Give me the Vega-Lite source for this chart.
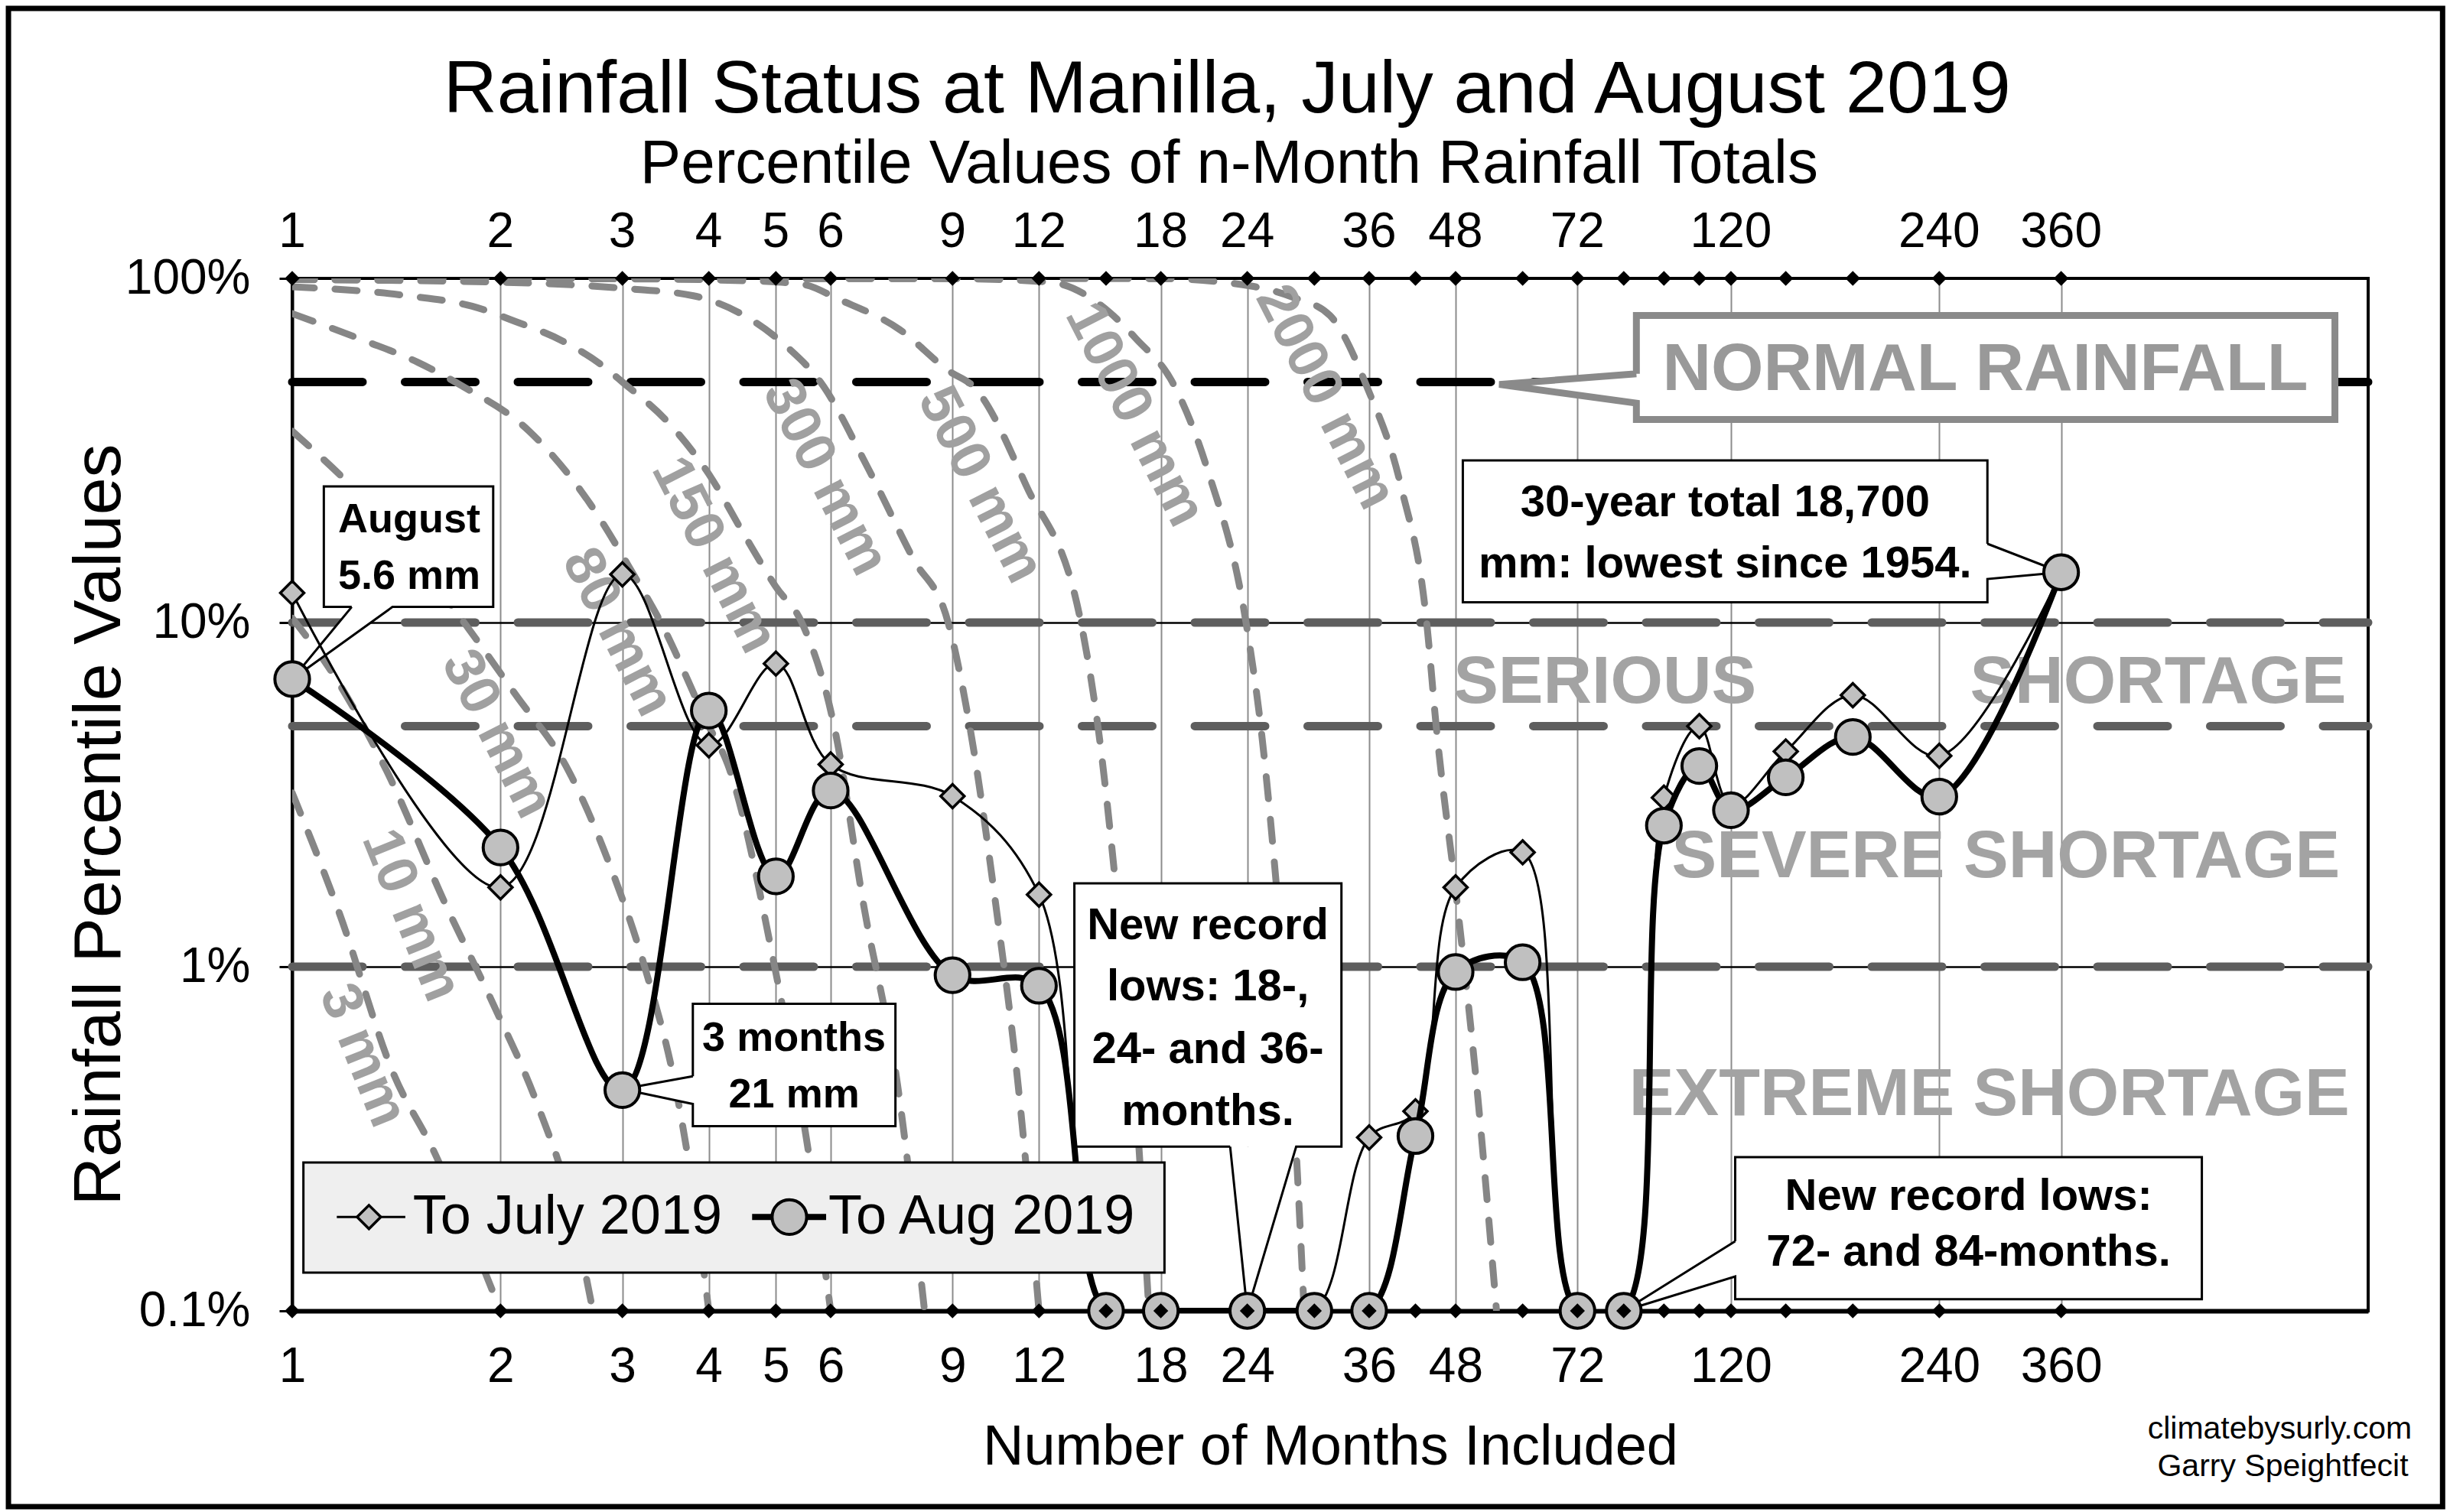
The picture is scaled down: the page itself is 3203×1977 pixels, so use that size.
{
"$schema": "https://vega.github.io/schema/vega-lite/v6.json",
"width": 2714, "height": 1350,
"autosize": {"type": "none"},
"padding": {"left": 382, "top": 364, "right": 107, "bottom": 263},
"background": "white",
"config": {"view": {"stroke": "black", "strokeWidth": 4}, "font": "Liberation Sans"},
"datasets": {
"series": [
{"s":"July","m":1,"p":12.2},{"s":"July","m":2,"p":1.70},{"s":"July","m":3,"p":13.8},{"s":"July","m":4,"p":4.4},{"s":"July","m":5,"p":7.6},{"s":"July","m":6,"p":3.87},{"s":"July","m":9,"p":3.13},{"s":"July","m":12,"p":1.62},{"s":"July","m":15,"p":0.1},{"s":"July","m":18,"p":0.1},{"s":"July","m":24,"p":0.1},{"s":"July","m":30,"p":0.1},{"s":"July","m":36,"p":0.319},{"s":"July","m":42,"p":0.38},{"s":"July","m":48,"p":1.70},{"s":"July","m":60,"p":2.15},{"s":"July","m":72,"p":0.1},{"s":"July","m":84,"p":0.1},{"s":"July","m":96,"p":3.1},{"s":"July","m":108,"p":5.0},{"s":"July","m":120,"p":2.95},{"s":"July","m":144,"p":4.22},{"s":"July","m":180,"p":6.15},{"s":"July","m":240,"p":4.1},{"s":"July","m":360,"p":14.0},
{"s":"Aug","m":1,"p":6.85},{"s":"Aug","m":2,"p":2.22},{"s":"Aug","m":3,"p":0.438},{"s":"Aug","m":4,"p":5.55},{"s":"Aug","m":5,"p":1.83},{"s":"Aug","m":6,"p":3.25},{"s":"Aug","m":9,"p":0.945},{"s":"Aug","m":12,"p":0.88},{"s":"Aug","m":15,"p":0.1},{"s":"Aug","m":18,"p":0.1},{"s":"Aug","m":24,"p":0.1},{"s":"Aug","m":30,"p":0.1},{"s":"Aug","m":36,"p":0.1},{"s":"Aug","m":42,"p":0.322},{"s":"Aug","m":48,"p":0.965},{"s":"Aug","m":60,"p":1.03},{"s":"Aug","m":72,"p":0.1},{"s":"Aug","m":84,"p":0.1},{"s":"Aug","m":96,"p":2.57},{"s":"Aug","m":108,"p":3.83},{"s":"Aug","m":120,"p":2.85},{"s":"Aug","m":144,"p":3.55},{"s":"Aug","m":180,"p":4.65},{"s":"Aug","m":240,"p":3.12},{"s":"Aug","m":360,"p":14.0}
],
"axdots": [
{"m":1,"p":100},{"m":2,"p":100},{"m":3,"p":100},{"m":4,"p":100},{"m":5,"p":100},{"m":6,"p":100},{"m":9,"p":100},{"m":12,"p":100},{"m":15,"p":100},{"m":18,"p":100},{"m":24,"p":100},{"m":30,"p":100},{"m":36,"p":100},{"m":42,"p":100},{"m":48,"p":100},{"m":60,"p":100},{"m":72,"p":100},{"m":84,"p":100},{"m":96,"p":100},{"m":108,"p":100},{"m":120,"p":100},{"m":144,"p":100},{"m":180,"p":100},{"m":240,"p":100},{"m":360,"p":100},
{"m":1,"p":0.1},{"m":2,"p":0.1},{"m":3,"p":0.1},{"m":4,"p":0.1},{"m":5,"p":0.1},{"m":6,"p":0.1},{"m":9,"p":0.1},{"m":12,"p":0.1},{"m":15,"p":0.1},{"m":18,"p":0.1},{"m":24,"p":0.1},{"m":30,"p":0.1},{"m":36,"p":0.1},{"m":42,"p":0.1},{"m":48,"p":0.1},{"m":60,"p":0.1},{"m":72,"p":0.1},{"m":84,"p":0.1},{"m":96,"p":0.1},{"m":108,"p":0.1},{"m":120,"p":0.1},{"m":144,"p":0.1},{"m":180,"p":0.1},{"m":240,"p":0.1},{"m":360,"p":0.1}
],
"curves": [
{"amt":"3 mm","m":1,"p":3.2},{"amt":"3 mm","m":1.17,"p":1.43},{"amt":"3 mm","m":1.4,"p":0.49},{"amt":"3 mm","m":1.61,"p":0.285},{"amt":"3 mm","m":1.82,"p":0.16},{"amt":"3 mm","m":2.0,"p":0.1},
{"amt":"10 mm","m":1,"p":10.3},{"amt":"10 mm","m":1.15,"p":7.0},{"amt":"10 mm","m":1.37,"p":3.7},{"amt":"10 mm","m":1.67,"p":1.5},{"amt":"10 mm","m":1.94,"p":0.8},{"amt":"10 mm","m":2.27,"p":0.39},{"amt":"10 mm","m":2.5,"p":0.22},{"amt":"10 mm","m":2.72,"p":0.1},
{"amt":"30 mm","m":1,"p":36},{"amt":"30 mm","m":1.32,"p":21},{"amt":"30 mm","m":1.71,"p":11},{"amt":"30 mm","m":2.1,"p":6.2},{"amt":"30 mm","m":2.51,"p":3.7},{"amt":"30 mm","m":2.87,"p":2.0},{"amt":"30 mm","m":3.25,"p":0.96},{"amt":"30 mm","m":3.59,"p":0.435},{"amt":"30 mm","m":3.8,"p":0.22},{"amt":"30 mm","m":4.0,"p":0.1},
{"amt":"80 mm","m":1,"p":79},{"amt":"80 mm","m":1.27,"p":66},{"amt":"80 mm","m":1.52,"p":57},{"amt":"80 mm","m":1.75,"p":49},{"amt":"80 mm","m":2.2,"p":36},{"amt":"80 mm","m":2.7,"p":22},{"amt":"80 mm","m":3.1,"p":14},{"amt":"80 mm","m":3.41,"p":10},{"amt":"80 mm","m":4.0,"p":5},{"amt":"80 mm","m":4.26,"p":3.87},{"amt":"80 mm","m":5.0,"p":0.96},{"amt":"80 mm","m":5.53,"p":0.32},{"amt":"80 mm","m":6.0,"p":0.1},
{"amt":"150 mm","m":1,"p":94.5},{"amt":"150 mm","m":1.47,"p":89},{"amt":"150 mm","m":1.82,"p":83},{"amt":"150 mm","m":2.1,"p":75},{"amt":"150 mm","m":2.45,"p":66},{"amt":"150 mm","m":2.8,"p":56},{"amt":"150 mm","m":3.0,"p":50},{"amt":"150 mm","m":3.5,"p":38},{"amt":"150 mm","m":4.0,"p":27},{"amt":"150 mm","m":4.5,"p":18},{"amt":"150 mm","m":5.0,"p":12.7},{"amt":"150 mm","m":5.45,"p":10},{"amt":"150 mm","m":6.07,"p":5},{"amt":"150 mm","m":6.7,"p":1.5},{"amt":"150 mm","m":7.5,"p":0.45},{"amt":"150 mm","m":8.2,"p":0.1},
{"amt":"300 mm","m":1,"p":99.2},{"amt":"300 mm","m":2,"p":97.5},{"amt":"300 mm","m":3,"p":93.6},{"amt":"300 mm","m":3.8,"p":89},{"amt":"300 mm","m":4.5,"p":78},{"amt":"300 mm","m":5.2,"p":63},{"amt":"300 mm","m":5.8,"p":50},{"amt":"300 mm","m":6.8,"p":28},{"amt":"300 mm","m":7.9,"p":15.3},{"amt":"300 mm","m":8.87,"p":10},{"amt":"300 mm","m":9.53,"p":5},{"amt":"300 mm","m":10.4,"p":1.5},{"amt":"300 mm","m":11.2,"p":0.45},{"amt":"300 mm","m":12,"p":0.1},
{"amt":"500 mm","m":1,"p":100},{"amt":"500 mm","m":3,"p":99.7},{"amt":"500 mm","m":4.5,"p":98.5},{"amt":"500 mm","m":5.48,"p":96},{"amt":"500 mm","m":6.16,"p":87},{"amt":"500 mm","m":7.55,"p":71},{"amt":"500 mm","m":8.87,"p":54},{"amt":"500 mm","m":9.7,"p":48},{"amt":"500 mm","m":11.5,"p":25},{"amt":"500 mm","m":13.8,"p":10},{"amt":"500 mm","m":14.6,"p":5},{"amt":"500 mm","m":15.6,"p":1.5},{"amt":"500 mm","m":16.5,"p":0.45},{"amt":"500 mm","m":17.3,"p":0.1},
{"amt":"1000 mm","m":1,"p":100},{"amt":"1000 mm","m":9,"p":99.8},{"amt":"1000 mm","m":12.4,"p":97.6},{"amt":"1000 mm","m":15.2,"p":79.5},{"amt":"1000 mm","m":16.6,"p":66.6},{"amt":"1000 mm","m":18.7,"p":50},{"amt":"1000 mm","m":21,"p":28},{"amt":"1000 mm","m":23.9,"p":10},{"amt":"1000 mm","m":25.1,"p":5},{"amt":"1000 mm","m":26.6,"p":1.5},{"amt":"1000 mm","m":27.9,"p":0.45},{"amt":"1000 mm","m":29,"p":0.1},
{"amt":"2000 mm","m":1,"p":100},{"amt":"2000 mm","m":18,"p":99.8},{"amt":"2000 mm","m":24.3,"p":95},{"amt":"2000 mm","m":28,"p":88},{"amt":"2000 mm","m":31.6,"p":78},{"amt":"2000 mm","m":35.8,"p":48},{"amt":"2000 mm","m":40,"p":25},{"amt":"2000 mm","m":43.6,"p":10},{"amt":"2000 mm","m":45,"p":5},{"amt":"2000 mm","m":48.3,"p":1.5},{"amt":"2000 mm","m":51.5,"p":0.45},{"amt":"2000 mm","m":55,"p":0.1}
],
"clabels": [
{"amt":"3 mm","m":1.264,"p":0.552},{"amt":"10 mm","m":1.485,"p":1.41},{"amt":"30 mm","m":1.976,"p":4.74},{"amt":"80 mm","m":2.95,"p":9.37},{"amt":"150 mm","m":4.07,"p":15.7},{"amt":"300 mm","m":5.89,"p":26.4},{"amt":"500 mm","m":9.87,"p":25.1},{"amt":"1000 mm","m":16.5,"p":40.2},{"amt":"2000 mm","m":31.1,"p":45.1}
],
"thr": [
{"m":1,"p":50},{"m":1000,"p":50},{"m":1,"p":10},{"m":1000,"p":10},{"m":1,"p":5},{"m":1000,"p":5},{"m":1,"p":1},{"m":1000,"p":1}
],
"zones": [
{"t":"SERIOUS","m":78.9,"p":6.684},{"t":"SHORTAGE","m":497.2,"p":6.684},{"t":"SEVERE SHORTAGE","m":299.5,"p":2.076},{"t":"EXTREME SHORTAGE","m":283.5,"p":0.4232}
],
"normal": [{"t":"NORMAL RAINFALL","m":279.7,"p":54.1}],
"boxes": [
{"id":"normal","m":87.6,"m2":895.3,"p":78.0,"p2":38.9},
{"id":"aug","m":1.111,"m2":1.952,"p":24.87,"p2":11.1},
{"id":"m3","m":3.793,"m2":7.443,"p":0.780,"p2":0.344},
{"id":"r1","m":13.5,"m2":32.83,"p":1.746,"p2":0.300},
{"id":"y30","m":49.17,"m2":281.7,"p":29.6,"p2":11.45},
{"id":"r2","m":121.7,"m2":575,"p":0.2797,"p2":0.1081}
],
"ptrV": [
{"id":"normal","m":55.5,"p":49.2,"p2":49.2},{"id":"normal","m":87.6,"p":52.8,"p2":43.4},
{"id":"m3","m":3.0,"p":0.441,"p2":0.441},{"id":"m3","m":3.793,"p":0.4806,"p2":0.399},
{"id":"y30","m":281.7,"p":16.94,"p2":13.38},{"id":"y30","m":360,"p":14.0,"p2":14.0},
{"id":"r2","m":84,"p":0.1,"p2":0.1},{"id":"r2","m":121.7,"p":0.1593,"p2":0.1259}
],
"ptrH": [
{"id":"aug","p":6.85,"m":1.0,"m2":1.0},{"id":"aug","p":11.1,"m":1.219,"m2":1.396},
{"id":"r1","p":0.1,"m":24,"m2":24},{"id":"r1","p":0.300,"m":22.67,"m2":28.24}
],
"outline": [
{"id":"normal","o":1,"m":87.6,"p":52.8},{"id":"normal","o":2,"m":87.6,"p":78.0},{"id":"normal","o":3,"m":895.3,"p":78.0},{"id":"normal","o":4,"m":895.3,"p":38.9},{"id":"normal","o":5,"m":87.6,"p":38.9},{"id":"normal","o":6,"m":87.6,"p":43.4},{"id":"normal","o":7,"m":55.5,"p":49.2},{"id":"normal","o":8,"m":87.6,"p":52.8},
{"id":"aug","o":1,"m":1.219,"p":11.1},{"id":"aug","o":2,"m":1.111,"p":11.1},{"id":"aug","o":3,"m":1.111,"p":24.87},{"id":"aug","o":4,"m":1.952,"p":24.87},{"id":"aug","o":5,"m":1.952,"p":11.1},{"id":"aug","o":6,"m":1.396,"p":11.1},{"id":"aug","o":7,"m":1.0,"p":6.85},{"id":"aug","o":8,"m":1.219,"p":11.1},
{"id":"m3","o":1,"m":3.793,"p":0.4806},{"id":"m3","o":2,"m":3.793,"p":0.780},{"id":"m3","o":3,"m":7.443,"p":0.780},{"id":"m3","o":4,"m":7.443,"p":0.344},{"id":"m3","o":5,"m":3.793,"p":0.344},{"id":"m3","o":6,"m":3.793,"p":0.399},{"id":"m3","o":7,"m":3.0,"p":0.441},{"id":"m3","o":8,"m":3.793,"p":0.4806},
{"id":"r1","o":1,"m":22.67,"p":0.300},{"id":"r1","o":2,"m":13.5,"p":0.300},{"id":"r1","o":3,"m":13.5,"p":1.746},{"id":"r1","o":4,"m":32.83,"p":1.746},{"id":"r1","o":5,"m":32.83,"p":0.300},{"id":"r1","o":6,"m":28.24,"p":0.300},{"id":"r1","o":7,"m":24,"p":0.1},{"id":"r1","o":8,"m":22.67,"p":0.300},
{"id":"y30","o":1,"m":281.7,"p":16.94},{"id":"y30","o":2,"m":281.7,"p":29.6},{"id":"y30","o":3,"m":49.17,"p":29.6},{"id":"y30","o":4,"m":49.17,"p":11.45},{"id":"y30","o":5,"m":281.7,"p":11.45},{"id":"y30","o":6,"m":281.7,"p":13.38},{"id":"y30","o":7,"m":360,"p":14.0},{"id":"y30","o":8,"m":281.7,"p":16.94},
{"id":"r2","o":1,"m":121.7,"p":0.1593},{"id":"r2","o":2,"m":121.7,"p":0.2797},{"id":"r2","o":3,"m":575,"p":0.2797},{"id":"r2","o":4,"m":575,"p":0.1081},{"id":"r2","o":5,"m":121.7,"p":0.1081},{"id":"r2","o":6,"m":121.7,"p":0.1259},{"id":"r2","o":7,"m":84,"p":0.1},{"id":"r2","o":8,"m":121.7,"p":0.1593}
],
"btext": [
{"box":"aug","t":"August","m":1.476,"p":19.85},{"box":"aug","t":"5.6 mm","m":1.476,"p":13.6},
{"box":"m3","t":"3 months","m":5.312,"p":0.617},{"box":"m3","t":"21 mm","m":5.312,"p":0.423},
{"box":"r1","t":"New record","m":21.05,"p":1.310},{"box":"r1","t":"lows: 18-,","m":21.05,"p":0.871},{"box":"r1","t":"24- and 36-","m":21.05,"p":0.5735},{"box":"r1","t":"months.","m":21.05,"p":0.3775},
{"box":"y30","t":"30-year total 18,700","m":117.7,"p":22.26},{"box":"y30","t":"mm:  lowest since 1954.","m":117.7,"p":14.79},
{"box":"r2","t":"New record lows:","m":264.6,"p":0.2147},{"box":"r2","t":"72- and 84-months.","m":264.6,"p":0.1473}
],
"legbox": [{"m":1.038,"m2":18.22,"p":0.2698,"p2":0.1291}],
"leglines": [{"s":"July","m":1.160,"p":0.1873},{"s":"July","m":1.457,"p":0.1873},{"s":"Aug","m":4.62,"p":0.1873},{"s":"Aug","m":5.91,"p":0.1873}],
"legsym": [{"s":"July","m":1.291,"p":0.1873},{"s":"Aug","m":5.23,"p":0.1873}],
"legtext": [{"t":"To July 2019","m":1.494,"p":0.1873},{"t":"To Aug 2019","m":5.954,"p":0.1873}],
"frame": [{"m":0.389,"m2":1281,"p":608.7,"p2":0.02699}],
"titles": [{"t":"Rainfall Status at Manilla, July and August 2019","m":22.44,"p":303.5}],
"subtitles": [{"t":"Percentile Values of n-Month Rainfall Totals","m":22.59,"p":189.6}],
"toplab": [{"m":1,"p":123.3},{"m":2,"p":123.3},{"m":3,"p":123.3},{"m":4,"p":123.3},{"m":5,"p":123.3},{"m":6,"p":123.3},{"m":9,"p":123.3},{"m":12,"p":123.3},{"m":18,"p":123.3},{"m":24,"p":123.3},{"m":36,"p":123.3},{"m":48,"p":123.3},{"m":72,"p":123.3},{"m":120,"p":123.3},{"m":240,"p":123.3},{"m":360,"p":123.3}],
"footer": [{"t":"climatebysurly.com","m":745.2,"p":0.04523},{"t":"Garry Speightfecit","m":753,"p":0.03521}]
},
"encoding": {
"x": {"field":"m","type":"quantitative","scale":{"type":"log","domain":[1,1000],"nice":false},
 "axis":{"values":[1,2,3,4,5,6,9,12,18,24,36,48,72,120,240,360],"format":"d","orient":"bottom","title":"Number of Months Included",
 "grid":true,"gridColor":"#8c8c8c","gridWidth":2,"ticks":false,"domainColor":"black","domainWidth":6,
 "labelFont":"Liberation Sans","labelFontSize":64,"labelColor":"black","labelPadding":41,"labelFlush":false,"labelOverlap":false,"labelBound":false,
 "titleFont":"Liberation Sans","titleFontSize":74,"titleFontWeight":"normal","titleColor":"black","titlePadding":37}},
"y": {"field":"p","type":"quantitative","scale":{"type":"log","domain":[0.1,100],"nice":false},
 "axis":{"values":[0.1,1,10,100],"labelExpr":"datum.value + '%'","title":"Rainfall Percentile Values",
 "grid":true,"gridColor":"black","gridWidth":2.5,"tickSize":17,"tickColor":"black","tickWidth":3,"domainColor":"black","domainWidth":4,
 "labelFont":"Liberation Sans","labelFontSize":64,"labelColor":"black","labelPadding":38,"labelOverlap":false,"labelBound":false,
 "titleFont":"Liberation Sans","titleFontSize":88,"titleFontWeight":"normal","titleColor":"black","titlePadding":8,"titleY":714}}
},
"layer": [
{"data":{"name":"frame"},"mark":{"type":"rect","fill":"transparent","stroke":"black","strokeWidth":7},"encoding":{"x2":{"field":"m2"},"y2":{"field":"p2"}}},
{"data":{"name":"thr"},"transform":[{"filter":"datum.p != 50"}],"mark":{"type":"line","color":"#5e5e5e","strokeWidth":11,"strokeDash":[92,55.5],"strokeCap":"round"},"encoding":{"detail":{"field":"p","type":"nominal"}}},
{"data":{"name":"thr"},"transform":[{"filter":"datum.p == 50"}],"mark":{"type":"line","color":"black","strokeWidth":11,"strokeDash":[92,55.5],"strokeCap":"round"},"encoding":{"detail":{"field":"p","type":"nominal"}}},
{"data":{"name":"curves"},"mark":{"type":"line","color":"#868686","strokeWidth":9,"strokeDash":[29,27],"strokeCap":"round","interpolate":"monotone","clip":true},"encoding":{"detail":{"field":"amt","type":"nominal"}}},
{"data":{"name":"clabels"},"transform":[{"filter":{"field":"amt","oneOf":["3 mm","10 mm"]}}],"mark":{"type":"text","angle":68,"fontSize":74,"fontWeight":"bold","color":"#a0a0a0","font":"Liberation Sans","align":"center","baseline":"middle"},"encoding":{"text":{"field":"amt"}}},
{"data":{"name":"clabels"},"transform":[{"filter":{"field":"amt","oneOf":["30 mm","80 mm","150 mm","300 mm","500 mm","1000 mm","2000 mm"]}}],"mark":{"type":"text","angle":63,"fontSize":74,"fontWeight":"bold","color":"#a0a0a0","font":"Liberation Sans","align":"center","baseline":"middle"},"encoding":{"text":{"field":"amt"}}},
{"data":{"name":"zones"},"mark":{"type":"text","fontSize":88,"fontWeight":"bold","color":"#a3a3a3","font":"Liberation Sans","align":"center","baseline":"middle"},"encoding":{"text":{"field":"t"}}},
{"data":{"name":"boxes"},"mark":{"type":"rect","fill":"white","strokeWidth":0},"encoding":{"x2":{"field":"m2"},"y2":{"field":"p2"}}},
{"data":{"name":"ptrV"},"mark":{"type":"area","orient":"vertical","fill":"white","opacity":1,"interpolate":"linear"},"encoding":{"y2":{"field":"p2"},"detail":{"field":"id","type":"nominal"}}},
{"data":{"name":"ptrH"},"mark":{"type":"area","orient":"horizontal","fill":"white","opacity":1,"interpolate":"linear"},"encoding":{"x2":{"field":"m2"},"detail":{"field":"id","type":"nominal"}}},
{"data":{"name":"outline"},"transform":[{"filter":"datum.id == 'normal'"}],"mark":{"type":"line","color":"#8a8a8a","strokeWidth":9,"strokeJoin":"miter"},"encoding":{"order":{"field":"o","type":"quantitative"},"detail":{"field":"id","type":"nominal"}}},
{"data":{"name":"outline"},"transform":[{"filter":"datum.id != 'normal'"}],"mark":{"type":"line","color":"black","strokeWidth":3,"strokeJoin":"miter"},"encoding":{"order":{"field":"o","type":"quantitative"},"detail":{"field":"id","type":"nominal"}}},
{"data":{"name":"normal"},"mark":{"type":"text","fontSize":88,"fontWeight":"bold","color":"#999999","font":"Liberation Sans","align":"center","baseline":"middle"},"encoding":{"text":{"field":"t"}}},
{"data":{"name":"btext"},"transform":[{"filter":{"field":"box","oneOf":["aug","m3"]}}],"mark":{"type":"text","fontSize":54,"fontWeight":"bold","color":"black","font":"Liberation Sans","align":"center","baseline":"middle"},"encoding":{"text":{"field":"t"}}},
{"data":{"name":"btext"},"transform":[{"filter":{"field":"box","oneOf":["r1","y30","r2"]}}],"mark":{"type":"text","fontSize":58,"fontWeight":"bold","color":"black","font":"Liberation Sans","align":"center","baseline":"middle"},"encoding":{"text":{"field":"t"}}},
{"data":{"name":"series"},"transform":[{"filter":"datum.s == 'July'"}],"mark":{"type":"line","color":"black","strokeWidth":3,"interpolate":"catmull-rom","clip":true}},
{"data":{"name":"series"},"transform":[{"filter":"datum.s == 'July'"}],"mark":{"type":"point","shape":"diamond","filled":true,"fill":"#c0c0c0","stroke":"black","strokeWidth":3.5,"size":960,"opacity":1}},
{"data":{"name":"series"},"transform":[{"filter":"datum.s == 'Aug'"}],"mark":{"type":"line","color":"black","strokeWidth":8,"interpolate":"catmull-rom","clip":true}},
{"data":{"name":"series"},"transform":[{"filter":"datum.s == 'Aug'"}],"mark":{"type":"point","shape":"circle","filled":true,"fill":"#c0c0c0","stroke":"black","strokeWidth":4,"size":2050,"opacity":1}},
{"data":{"name":"legbox"},"mark":{"type":"rect","fill":"#efefef","stroke":"black","strokeWidth":3},"encoding":{"x2":{"field":"m2"},"y2":{"field":"p2"}}},
{"data":{"name":"leglines"},"transform":[{"filter":"datum.s == 'July'"}],"mark":{"type":"line","color":"black","strokeWidth":3}},
{"data":{"name":"leglines"},"transform":[{"filter":"datum.s == 'Aug'"}],"mark":{"type":"line","color":"black","strokeWidth":8}},
{"data":{"name":"legsym"},"transform":[{"filter":"datum.s == 'July'"}],"mark":{"type":"point","shape":"diamond","filled":true,"fill":"#c0c0c0","stroke":"black","strokeWidth":3.5,"size":960,"opacity":1}},
{"data":{"name":"legsym"},"transform":[{"filter":"datum.s == 'Aug'"}],"mark":{"type":"point","shape":"circle","filled":true,"fill":"#c0c0c0","stroke":"black","strokeWidth":4,"size":2050,"opacity":1}},
{"data":{"name":"legtext"},"mark":{"type":"text","fontSize":72,"color":"black","font":"Liberation Sans","align":"left","baseline":"middle"},"encoding":{"text":{"field":"t"}}},
{"data":{"name":"axdots"},"mark":{"type":"point","shape":"diamond","filled":true,"color":"black","size":380,"opacity":1,"strokeWidth":0}},
{"data":{"name":"titles"},"mark":{"type":"text","fontSize":97,"color":"black","font":"Liberation Sans","align":"center","baseline":"alphabetic"},"encoding":{"text":{"field":"t"}}},
{"data":{"name":"subtitles"},"mark":{"type":"text","fontSize":80,"color":"black","font":"Liberation Sans","align":"center","baseline":"alphabetic"},"encoding":{"text":{"field":"t"}}},
{"data":{"name":"toplab"},"mark":{"type":"text","fontSize":64,"color":"black","font":"Liberation Sans","align":"center","baseline":"alphabetic"},"encoding":{"text":{"field":"m","type":"quantitative","format":"d"}}},
{"data":{"name":"footer"},"mark":{"type":"text","fontSize":41,"color":"black","font":"Liberation Sans","align":"center","baseline":"middle"},"encoding":{"text":{"field":"t"}}}
]
}
